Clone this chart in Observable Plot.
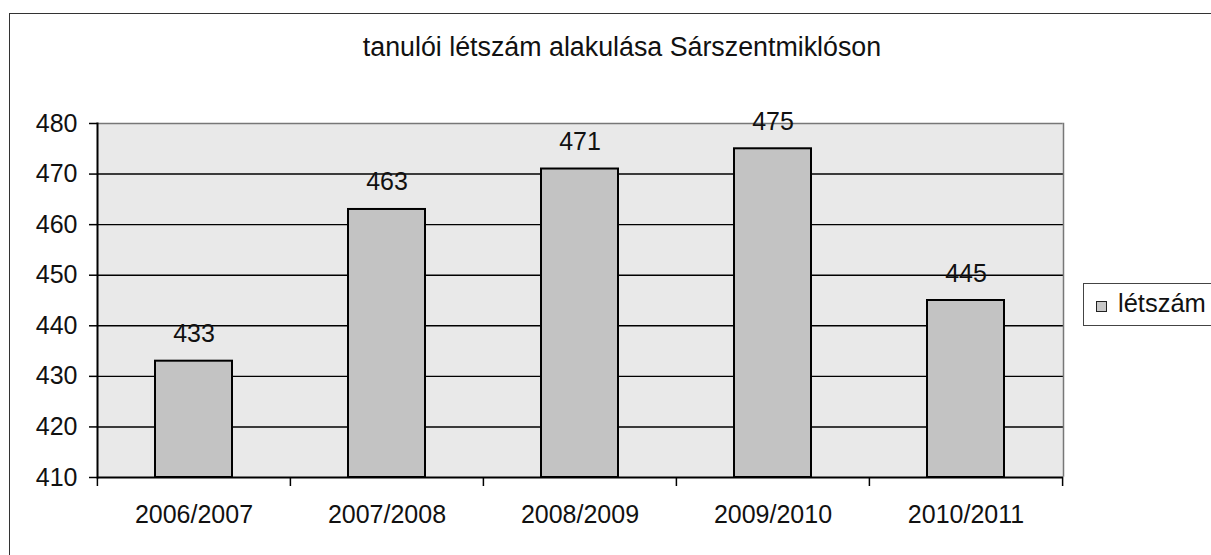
<!DOCTYPE html>
<html>
<head>
<meta charset="utf-8">
<script src="https://cdn.jsdelivr.net/npm/d3@7"></script>
<script src="https://cdn.jsdelivr.net/npm/@observablehq/plot@0.6"></script>
<style>
  body { margin: 0; background: #fff; font-family: "Liberation Sans", Arial, sans-serif; }
  #wrap { position: relative; width: 1211px; height: 555px; overflow: hidden; background: #fff; }
  #border { position: absolute; left: 9px; top: 13px; width: 1400px; height: 800px; border: 1.5px solid #333; box-sizing: border-box; }
  #title { position: absolute; left: 0; top: 34px; width: 1244px; text-align: center; font-size: 26.8px; color: #111; line-height: 1; white-space: nowrap; }
  #chart { position: absolute; left: 0; top: 0; }
  #legend { position: absolute; left: 1083px; top: 283px; width: 200px; height: 43px; border: 1px solid #444; box-sizing: border-box; background: #fff; }
  #legend .sw { position: absolute; left: 12px; top: 17px; width: 11px; height: 11px; border: 1.5px solid #222; background: #c8c8c8; box-sizing: border-box; }
  #legend .lb { position: absolute; left: 34px; top: 7px; font-size: 25.5px; color: #111; line-height: 1; white-space: nowrap; }
</style>
</head>
<body>
<div id="wrap">
  <div id="border"></div>
  <div id="chart"></div>
  <div id="title">tanulói létszám alakulása Sárszentmiklóson</div>
  <div id="legend"><div class="sw"></div><div class="lb">létszám</div></div>
</div>
<script>
// ---- data ----
const years = ["2006/2007", "2007/2008", "2008/2009", "2009/2010", "2010/2011"];
const counts = [433, 463, 471, 475, 445];
const yTicks = [410, 420, 430, 440, 450, 460, 470, 480];
const seriesName = "létszám";

const rows = years.map((y, i) => ({year: y, count: counts[i]}));

const W = 1211, H = 555;
const mL = 97, mR = 148, mT = 123, mB = 78;
const step = (W - mL - mR) / years.length;
const yMin = yTicks[0], yMax = yTicks[yTicks.length - 1];
const font = "Liberation Sans, Arial, sans-serif";

const chart = Plot.plot({
  width: W,
  height: H,
  marginLeft: mL,
  marginRight: mR,
  marginTop: mT,
  marginBottom: mB,
  style: {fontFamily: font, fontSize: "25px", color: "#111", background: "transparent"},
  x: {type: "band", domain: years, paddingInner: 0.6, paddingOuter: 0.3, align: 0.5, label: null},
  y: {domain: [yMin, yMax], label: null},
  marks: [
    Plot.frame({fill: "#e9e9e9", stroke: null}),
    Plot.ruleY(yTicks.slice(1, -1), {stroke: "#000", strokeWidth: 1.4}),
    Plot.frame({anchor: "top", stroke: "#777", strokeWidth: 1.5, strokeDasharray: "1.5,1.5"}),
    Plot.frame({anchor: "right", stroke: "#777", strokeWidth: 1.5, strokeDasharray: "1.5,1.5"}),
    Plot.barY(rows, {x: "year", y1: yMin, y2: "count", fill: "#c3c3c3", stroke: "#000", strokeWidth: 2}),
    Plot.text(rows, {x: "year", y: "count", text: d => String(d.count), dy: -19, lineAnchor: "bottom", fontSize: 25, fill: "#111"}),
    Plot.ruleY([yMin], {stroke: "#000", strokeWidth: 2}),
    Plot.frame({anchor: "left", stroke: "#000", strokeWidth: 2}),
    Plot.axisY(yTicks, {tickSize: 8, tickPadding: 12, tickFormat: d3.format("d"), fontSize: 25, stroke: "#000", strokeWidth: 1.5, label: null}),
    Plot.axisX({tickSize: 0, tickPadding: 28, fontSize: 25, label: null}),
    Plot.axisX(years, {tickSize: 9, tickFormat: () => "", dx: -step / 2, stroke: "#000", strokeWidth: 1.5, label: null}),
    Plot.axisX(years.slice(-1), {tickSize: 9, tickFormat: () => "", dx: step / 2, stroke: "#000", strokeWidth: 1.5, label: null})
  ]
});
document.getElementById("chart").appendChild(chart);
</script>
</body>
</html>
